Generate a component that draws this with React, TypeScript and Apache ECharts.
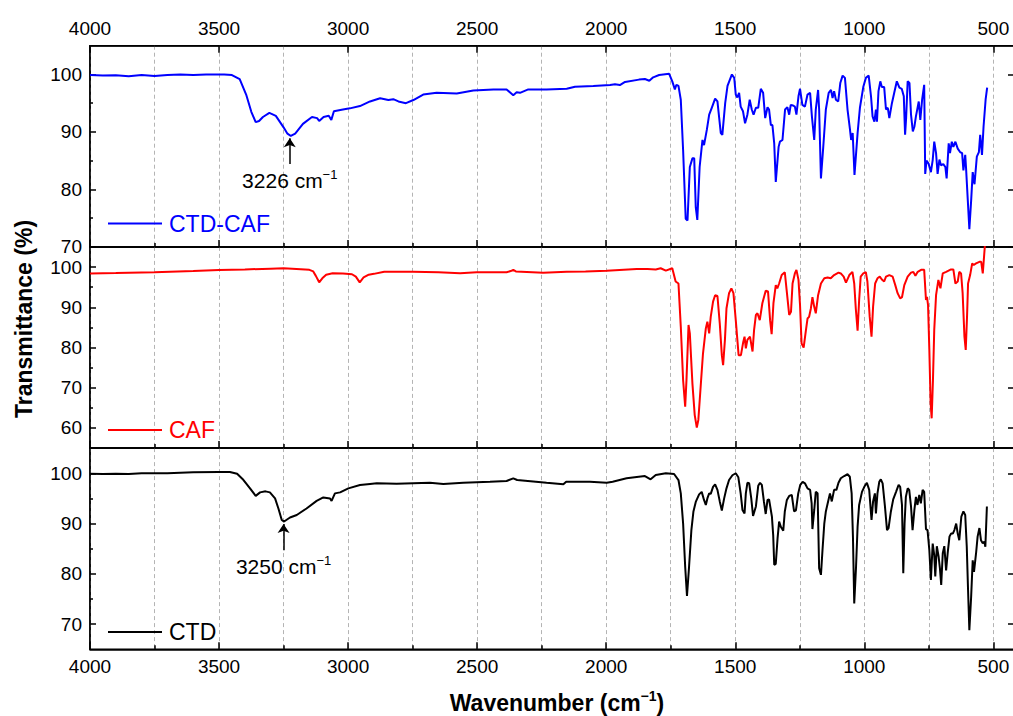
import React, { useEffect, useRef } from "react";
import * as echarts from "echarts";

const FONT = "'Liberation Sans', Arial, Helvetica, sans-serif";

// ---------------- data ----------------
const seriesNames = ["CTD-CAF", "CAF", "CTD"];
const seriesColors = ["#0000ff", "#ff0000", "#000000"];

const wavenumberTicks = [500, 1000, 1500, 2000, 2500, 3000, 3500, 4000];
const wavenumberMinorTicks = [750, 1250, 1750, 2250, 2750, 3250, 3750];
const wavenumberMin = 420;
const wavenumberMax = 4000;

const panelYMin = [70, 55, 65];
const panelYMax = [105, 105, 105];
const panelYTicks = [
  [70, 80, 90, 100],
  [60, 70, 80, 90, 100],
  [70, 80, 90, 100],
];
const panelYMinorTicks = [
  [75, 85, 95],
  [65, 75, 85, 95],
  [75, 85, 95],
];

// peak annotations: [panel, wavenumber, arrow tail T, arrow tip T, label]
const peakAnnotations: [number, number, number, number, string][] = [
  [0, 3226, 84.4, 88.9, "3226 cm"],
  [2, 3250, 84.7, 89.9, "3250 cm"],
];

const ctdCafData = [
  [4000, 99.9], [3950, 99.8], [3900, 99.85], [3850, 99.7], [3800, 99.9], [3750, 99.75], [3700, 99.9],
  [3650, 100.0], [3600, 99.9], [3550, 100.0], [3480, 100.0], [3450, 99.9], [3420, 99.2], [3395, 96.5],
  [3375, 93.5], [3358, 91.7], [3345, 91.9], [3330, 92.6], [3305, 93.3], [3280, 92.8], [3250, 90.8],
  [3235, 89.7], [3222, 89.3], [3205, 89.7], [3175, 91.4], [3140, 92.6], [3120, 92.4], [3112, 91.9],
  [3095, 92.6], [3075, 92.8], [3065, 92.1], [3055, 93.6], [3020, 93.9], [2993, 94.1], [2954, 94.5],
  [2915, 95.3], [2876, 95.85], [2844, 95.55], [2825, 95.7], [2805, 95.3], [2776, 95.0], [2747, 95.55],
  [2709, 96.5], [2657, 96.8], [2579, 96.7], [2515, 97.2], [2437, 97.4], [2386, 97.4], [2360, 96.4],
  [2347, 96.9], [2334, 96.8], [2302, 97.4], [2231, 97.4], [2153, 97.5], [2121, 97.85], [2050, 98.0],
  [1985, 98.15], [1966, 98.3], [1947, 98.15], [1927, 98.7], [1873, 99.1], [1850, 99.2], [1833, 98.9],
  [1818, 99.5], [1795, 99.9], [1756, 100.1],
  [1744, 98.8], [1734, 97.4], [1728, 98.2], [1720, 98.0], [1711, 95.6], [1702, 86.8], [1692, 74.9],
  [1685, 74.6], [1676, 83.9], [1666, 85.4], [1659, 85.4], [1653, 76.9], [1647, 74.7], [1638, 83.9],
  [1627, 88.6], [1621, 87.7], [1610, 90.4], [1601, 93.0], [1591, 94.2], [1578, 95.8], [1569, 95.3],
  [1556, 89.8], [1550, 89.5], [1539, 95.0], [1530, 98.0], [1513, 100.0], [1504, 99.4], [1498, 96.5],
  [1492, 96.0], [1485, 96.8], [1479, 94.4], [1470, 93.6], [1462, 91.5], [1453, 93.0], [1444, 95.6],
  [1436, 93.9], [1429, 93.0], [1420, 94.2], [1411, 94.2], [1401, 97.5], [1392, 96.8], [1384, 92.4],
  [1375, 94.3], [1369, 93.9], [1362, 91.2], [1356, 91.2], [1349, 88.0], [1343, 81.3], [1332, 87.4],
  [1327, 88.3], [1317, 88.6], [1307, 93.9], [1298, 94.3], [1291, 93.0], [1285, 94.7], [1276, 94.6],
  [1269, 94.4], [1263, 93.0], [1255, 96.2], [1249, 97.5], [1240, 94.7], [1230, 94.4], [1220, 96.5],
  [1210, 96.8], [1203, 92.7], [1194, 88.6], [1188, 93.9], [1179, 97.3], [1175, 93.9], [1168, 81.9],
  [1159, 87.4], [1149, 93.9], [1138, 96.8], [1129, 97.3], [1123, 95.9], [1117, 97.1], [1110, 95.6],
  [1101, 95.3], [1093, 98.5], [1084, 99.8], [1075, 99.4], [1065, 93.9], [1056, 90.6], [1051, 88.6],
  [1045, 89.8], [1038, 82.5], [1026, 89.8], [1017, 94.2], [1004, 97.8], [994, 99.4], [983, 99.8],
  [974, 96.2], [968, 92.7], [961, 91.8], [955, 93.9], [951, 91.8], [945, 97.1], [938, 98.8],
  [932, 97.8], [923, 97.8], [916, 93.9], [909, 94.2], [903, 92.4], [893, 95.0], [884, 96.8],
  [874, 98.8], [864, 97.7], [855, 97.5], [847, 96.2], [842, 89.5], [838, 92.4], [832, 98.8],
  [825, 98.5], [819, 93.0], [812, 90.1], [806, 90.9], [800, 92.7], [789, 95.3], [783, 92.1],
  [776, 95.6], [768, 98.2], [764, 82.7], [759, 85.0], [751, 84.5], [742, 83.0], [735, 85.1],
  [729, 88.3], [722, 86.3], [716, 82.7], [709, 85.2], [703, 84.2], [694, 84.4], [686, 83.9],
  [681, 81.9], [673, 88.0], [668, 86.3], [661, 88.3], [655, 87.4], [647, 88.3], [638, 87.1],
  [629, 86.5], [621, 86.3], [616, 83.3], [609, 86.0], [606, 83.9], [599, 78.1], [593, 73.1],
  [586, 78.1], [580, 83.0], [573, 80.9], [564, 85.7], [556, 86.5], [551, 89.5], [544, 86.0],
  [538, 90.9], [530, 95.6], [524, 97.7],
];

const cafData = [
  [4000, 98.4], [3900, 98.5], [3750, 98.7], [3600, 99.0], [3500, 99.25], [3400, 99.4], [3300, 99.6],
  [3250, 99.7], [3200, 99.5], [3150, 99.3], [3135, 98.9], [3125, 97.8], [3112, 96.2], [3100, 97.2],
  [3085, 98.1], [3060, 98.45], [3020, 98.4], [2985, 98.2], [2970, 97.6], [2955, 96.2], [2940, 97.4],
  [2920, 98.1], [2900, 98.3], [2860, 98.85], [2750, 98.85], [2650, 98.7], [2566, 98.45], [2502, 98.7],
  [2386, 98.7], [2370, 99.0], [2360, 99.3], [2350, 98.9], [2244, 98.6], [2153, 98.85], [2080, 98.9],
  [1998, 99.1], [1882, 99.5], [1840, 99.5], [1808, 99.4], [1789, 99.7], [1769, 99.1], [1744, 99.7],
  [1731, 96.4], [1720, 95.9], [1711, 85.2], [1702, 71.9], [1694, 65.3], [1689, 71.9], [1681, 85.6],
  [1676, 83.5], [1666, 71.1], [1657, 63.2], [1649, 60.1], [1643, 62.0], [1634, 70.3], [1625, 78.5],
  [1614, 84.75], [1608, 86.4], [1601, 83.5], [1595, 87.6], [1586, 91.4], [1578, 93.0], [1569, 92.8],
  [1560, 86.0], [1552, 78.1], [1547, 75.6], [1540, 81.9], [1534, 89.7], [1524, 93.5], [1515, 94.7],
  [1507, 93.5], [1498, 86.8], [1487, 78.1], [1478, 78.1], [1469, 81.4], [1464, 82.7], [1459, 79.8],
  [1453, 81.9], [1443, 82.7], [1433, 79.0], [1427, 84.4], [1420, 88.1], [1414, 88.5], [1405, 86.8],
  [1395, 91.0], [1382, 94.1], [1373, 93.9], [1365, 86.8], [1359, 83.3], [1352, 91.0], [1343, 95.5],
  [1337, 94.7], [1330, 95.9], [1320, 98.0], [1308, 98.7], [1301, 94.3], [1291, 88.1], [1284, 88.9],
  [1278, 95.9], [1269, 98.4], [1263, 99.3], [1255, 96.8], [1249, 90.5], [1243, 81.0], [1235, 80.0],
  [1226, 84.4], [1220, 87.2], [1214, 87.6], [1207, 89.7], [1201, 92.5], [1194, 90.1], [1188, 88.5],
  [1179, 93.0], [1168, 95.9], [1155, 97.2], [1142, 97.4], [1130, 97.2], [1117, 98.0], [1100, 98.6],
  [1091, 98.4], [1080, 97.6], [1071, 96.1], [1058, 98.0], [1046, 98.8], [1039, 95.9], [1033, 89.7],
  [1026, 84.2], [1020, 91.8], [1014, 97.6], [1004, 98.4], [994, 98.7], [988, 96.4], [979, 87.6],
  [972, 82.7], [966, 90.1], [958, 95.9], [949, 97.2], [940, 97.6], [932, 96.9], [923, 96.4],
  [916, 97.6], [903, 98.0], [890, 97.6], [880, 95.5], [871, 93.5], [861, 92.2], [854, 92.5],
  [845, 95.5], [832, 97.6], [819, 98.6], [810, 98.8], [802, 97.8], [793, 98.8], [780, 99.3],
  [768, 99.3], [761, 91.8], [757, 92.6], [753, 90.5], [748, 79.4], [743, 66.1], [739, 62.4],
  [734, 71.9], [729, 84.4], [722, 93.0], [713, 96.8], [705, 94.7], [696, 98.4], [683, 98.8],
  [664, 99.4], [655, 99.4], [647, 95.9], [638, 96.4], [632, 98.8], [625, 98.4], [619, 93.5],
  [612, 82.7], [607, 79.4], [602, 87.6], [598, 95.9], [590, 98.0], [582, 100.9], [576, 100.5],
  [567, 100.9], [554, 101.3], [547, 101.3], [541, 98.4], [532, 106.0],
];

const ctdData = [
  [4000, 99.9], [3950, 99.85], [3900, 99.9], [3850, 99.85], [3800, 100.0], [3700, 100.0], [3600, 100.2],
  [3500, 100.25], [3458, 100.25], [3430, 99.9], [3406, 98.7], [3380, 97.0], [3358, 95.5], [3341, 96.2],
  [3320, 96.4], [3303, 96.2], [3283, 95.0], [3270, 93.0], [3257, 90.7], [3248, 90.4], [3225, 91.2],
  [3199, 91.7], [3161, 93.0], [3122, 94.5], [3096, 95.2], [3070, 95.0], [3064, 94.5], [3051, 96.0],
  [3031, 96.2], [2999, 97.0], [2954, 97.65], [2915, 97.86], [2889, 98.0], [2812, 97.9], [2683, 98.1],
  [2631, 97.86], [2554, 98.1], [2450, 98.3], [2386, 98.46], [2360, 98.99], [2345, 98.66], [2231, 98.1],
  [2166, 97.8], [2155, 98.3], [2063, 98.3], [1998, 98.1], [1975, 98.3], [1921, 98.99], [1850, 99.45],
  [1828, 98.8], [1808, 99.65], [1769, 100.0], [1737, 99.85],
  [1720, 98.65], [1711, 96.0], [1702, 90.0], [1694, 81.4], [1687, 75.6], [1679, 81.4], [1670, 88.7],
  [1662, 92.4], [1653, 94.3], [1640, 95.8], [1630, 96.3], [1621, 94.7], [1614, 93.7], [1608, 95.0],
  [1601, 96.0], [1595, 95.9], [1586, 97.3], [1578, 97.8], [1569, 96.7], [1560, 94.4], [1552, 92.6],
  [1543, 95.0], [1534, 97.0], [1524, 98.65], [1511, 99.6], [1498, 100.0], [1488, 99.2], [1479, 96.0],
  [1472, 92.7], [1464, 92.0], [1459, 96.0], [1453, 98.1], [1446, 98.0], [1438, 95.0], [1431, 91.5],
  [1420, 93.4], [1411, 97.5], [1404, 98.1], [1397, 97.7], [1389, 94.4], [1382, 91.9], [1375, 94.7],
  [1369, 94.8], [1358, 91.4], [1353, 87.7], [1349, 81.8], [1343, 82.0], [1336, 87.1], [1330, 90.4],
  [1323, 89.3], [1314, 88.6], [1308, 92.4], [1300, 94.7], [1291, 95.5], [1281, 95.7], [1272, 92.4],
  [1265, 92.6], [1256, 96.0], [1248, 97.7], [1239, 98.3], [1230, 98.0], [1220, 97.0], [1210, 96.7],
  [1204, 94.0], [1201, 88.9], [1194, 92.7], [1188, 96.3], [1181, 96.0], [1175, 81.1], [1168, 79.8],
  [1162, 84.7], [1155, 90.0], [1149, 92.4], [1142, 94.0], [1133, 96.0], [1126, 94.4], [1117, 96.7],
  [1108, 96.7], [1100, 98.1], [1091, 99.0], [1078, 99.45], [1065, 99.8], [1056, 99.3], [1049, 96.0],
  [1044, 87.4], [1039, 74.1], [1032, 81.4], [1026, 89.4], [1020, 93.7], [1009, 96.3], [1000, 97.3],
  [990, 98.1], [981, 96.7], [972, 90.7], [966, 94.4], [959, 96.0], [955, 92.0], [949, 96.0],
  [942, 98.3], [936, 98.8], [929, 98.0], [920, 93.4], [912, 88.7], [906, 89.1], [897, 92.4],
  [888, 94.8], [877, 96.3], [867, 97.7], [861, 97.3], [854, 93.7], [849, 80.1], [844, 90.0],
  [839, 95.3], [832, 97.0], [826, 96.7], [819, 93.4], [813, 88.7], [806, 92.7], [800, 95.3],
  [794, 93.7], [787, 95.7], [781, 94.0], [774, 96.7], [768, 96.3], [761, 88.9], [755, 88.7],
  [748, 84.7], [742, 78.8], [735, 86.0], [729, 83.7], [725, 79.5], [719, 85.5], [712, 83.4],
  [707, 81.1], [702, 77.8], [696, 84.1], [690, 85.5], [683, 80.7], [677, 84.1], [670, 87.4],
  [664, 88.0], [657, 88.0], [651, 88.7], [644, 90.0], [638, 88.0], [632, 86.7], [624, 91.4],
  [616, 92.4], [609, 91.7], [603, 85.4], [598, 76.8], [593, 68.8], [586, 75.5], [580, 82.7],
  [575, 80.4], [567, 84.1], [561, 87.4], [554, 89.1], [548, 86.7], [541, 86.1], [535, 86.4],
  [531, 85.4], [525, 93.4],
];

const seriesData = [ctdCafData, cafData, ctdData];

// ---------------- layout ----------------
const CHART_W = 1020;
const CHART_H = 716;
const GRID_LEFT = 90;
const GRID_RIGHT = 6;
const GRID_TOPS = [45.7, 246.9, 448.1];
const GRID_H = 201.2;
const LEGEND_TOPS = [212, 418.5, 620.5];

const plainNumber = (v: number) => String(v);

function buildOption() {
  const axisLineStyle = { color: "#000", width: 1.5 };
  const labelStyle = { fontSize: 19, color: "#000", fontFamily: FONT, formatter: plainNumber };
  const dashed = { show: true, lineStyle: { color: "#b4b4b4", type: [4, 3], width: 1 } };

  const grid = GRID_TOPS.map((top) => ({
    left: GRID_LEFT,
    right: GRID_RIGHT,
    top,
    height: GRID_H,
    show: true,
    borderColor: "#000",
    borderWidth: 1.5,
    backgroundColor: "transparent",
    containLabel: false,
    outerBoundsMode: "none",
  }));

  const xAxis: any[] = [];
  GRID_TOPS.forEach((_, g) => {
    xAxis.push({
      type: "value",
      gridIndex: g,
      position: "bottom",
      min: wavenumberMin,
      max: wavenumberMax,
      inverse: true,
      axisLine: { show: true, onZero: false, lineStyle: axisLineStyle },
      axisTick: { show: true, inside: true, length: 7, customValues: wavenumberTicks, lineStyle: axisLineStyle },
      axisLabel: { show: g === 2, customValues: wavenumberTicks, margin: 8, ...labelStyle },
      splitLine: dashed,
    });
    xAxis.push({
      type: "value",
      gridIndex: g,
      position: "bottom",
      min: wavenumberMin,
      max: wavenumberMax,
      inverse: true,
      axisLine: { show: false, onZero: false },
      axisTick: { show: true, inside: true, length: 4, customValues: wavenumberMinorTicks, lineStyle: axisLineStyle },
      axisLabel: { show: false, customValues: wavenumberMinorTicks },
      splitLine: dashed,
    });
  });
  xAxis.push({
    type: "value",
    gridIndex: 0,
    position: "top",
    min: wavenumberMin,
    max: wavenumberMax,
    inverse: true,
    axisLine: { show: true, onZero: false, lineStyle: axisLineStyle },
    axisTick: { show: true, inside: true, length: 7, customValues: wavenumberTicks, lineStyle: axisLineStyle },
    axisLabel: { show: true, customValues: wavenumberTicks, margin: 8, ...labelStyle },
    splitLine: { show: false },
  });

  const yAxis: any[] = [];
  GRID_TOPS.forEach((_, g) => {
    yAxis.push({
      type: "value",
      gridIndex: g,
      position: "left",
      min: panelYMin[g],
      max: panelYMax[g],
      axisLine: { show: true, onZero: false, lineStyle: axisLineStyle },
      axisTick: { show: true, inside: true, length: 6, customValues: panelYTicks[g], lineStyle: axisLineStyle },
      axisLabel: { show: true, customValues: panelYTicks[g], margin: 8, ...labelStyle },
      splitLine: { show: false },
    });
    yAxis.push({
      type: "value",
      gridIndex: g,
      position: "left",
      min: panelYMin[g],
      max: panelYMax[g],
      axisLine: { show: false, onZero: false },
      axisTick: { show: true, inside: true, length: 3, customValues: panelYMinorTicks[g], lineStyle: axisLineStyle },
      axisLabel: { show: false, customValues: panelYMinorTicks[g] },
      splitLine: { show: false },
    });
    yAxis.push({
      type: "value",
      gridIndex: g,
      position: "right",
      min: panelYMin[g],
      max: panelYMax[g],
      axisLine: { show: true, onZero: false, lineStyle: axisLineStyle },
      axisTick: { show: true, inside: true, length: 6, customValues: panelYTicks[g], lineStyle: axisLineStyle },
      axisLabel: { show: false, customValues: panelYTicks[g] },
      splitLine: { show: false },
    });
  });

  const series = seriesNames.map((name, g) => {
    const ann = peakAnnotations.filter((a) => a[0] === g);
    const s: any = {
      type: "line",
      name,
      xAxisIndex: 2 * g,
      yAxisIndex: 3 * g,
      data: seriesData[g],
      symbol: "none",
      showSymbol: false,
      clip: true,
      color: seriesColors[g],
      lineStyle: { color: seriesColors[g], width: 2 },
      itemStyle: { color: seriesColors[g] },
      z: 3,
    };
    if (ann.length) {
      s.markLine = {
        silent: true,
        animation: false,
        symbol: ["none", "arrow"],
        symbolSize: 9,
        lineStyle: { color: "#000", width: 1.5, type: "solid" },
        itemStyle: { color: "#000" },
        label: {
          show: true,
          position: "start",
          distance: 4,
          formatter: `{a|${ann[0][4]}}{s|\u22121}`,
          rich: {
            a: { fontSize: 21, fontFamily: FONT, color: "#000", lineHeight: 24 },
            s: { fontSize: 13, fontFamily: FONT, color: "#000", lineHeight: 13, verticalAlign: "top" },
          },
        },
        data: ann.map((a) => [{ coord: [a[1], a[2]] }, { coord: [a[1], a[3]] }]),
      };
    }
    return s;
  });

  const legend = seriesNames.map((name, g) => ({
    data: [{ name, icon: "rect", textStyle: { color: seriesColors[g] } }],
    left: 108,
    top: LEGEND_TOPS[g],
    orient: "horizontal",
    padding: 0,
    itemWidth: 54,
    itemHeight: 2,
    selectedMode: false,
    itemStyle: { color: seriesColors[g], borderWidth: 0 },
    lineStyle: { width: 0 },
    textStyle: { fontSize: 23, fontFamily: FONT, color: seriesColors[g], padding: [0, 0, 0, 2] },
  }));

  const graphic = [
    {
      type: "text",
      x: 23.5,
      y: 319,
      rotation: Math.PI / 2,
      style: {
        text: "Transmittance (%)",
        fontSize: 23,
        fontWeight: "bold",
        fontFamily: FONT,
        fill: "#000",
        textAlign: "center",
        textVerticalAlign: "middle",
      },
    },
    {
      type: "text",
      x: 557,
      y: 703,
      style: {
        text: "{a|Wavenumber (cm}{s|\u22121}{a|)}",
        fill: "#000",
        textAlign: "center",
        textVerticalAlign: "middle",
        rich: {
          a: { fontSize: 23, fontWeight: "bold", fontFamily: FONT, fill: "#000", lineHeight: 28 },
          s: { fontSize: 14, fontWeight: "bold", fontFamily: FONT, fill: "#000", lineHeight: 14, verticalAlign: "top" },
        },
      },
    },
  ];

  return {
    animation: false,
    backgroundColor: "#ffffff",
    grid,
    xAxis,
    yAxis,
    series,
    legend,
    graphic,
  };
}

export default function App() {
  const ref = useRef<HTMLDivElement>(null);
  useEffect(() => {
    if (!ref.current) return;
    const chart = echarts.init(ref.current, undefined, { renderer: "svg" });
    chart.setOption(buildOption() as any);
    return () => chart.dispose();
  }, []);
  return (
    <div style={{ position: "fixed", left: 0, top: 0, width: 1013, height: CHART_H, overflow: "hidden", background: "#fff" }}>
      <div ref={ref} style={{ width: CHART_W, height: CHART_H }} />
    </div>
  );
}
